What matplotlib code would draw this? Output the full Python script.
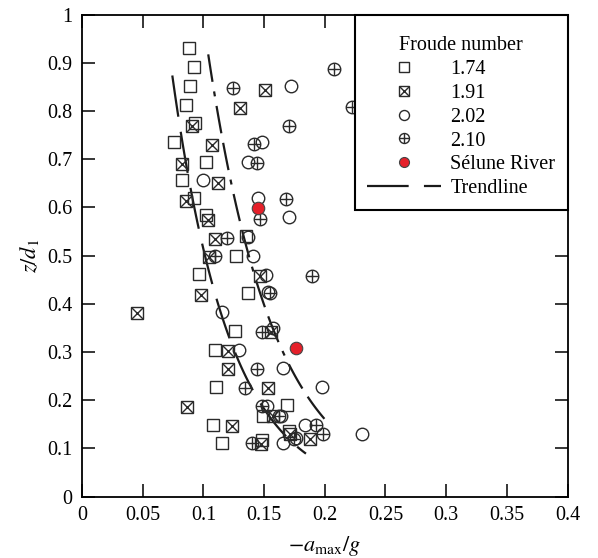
import numpy as np
import matplotlib.pyplot as plt
from matplotlib.lines import Line2D
from matplotlib.ticker import FuncFormatter

plt.rcParams['font.family'] = ['Liberation Serif', 'DejaVu Serif']
plt.rcParams['mathtext.fontset'] = 'stix'
plt.rcParams['lines.scale_dashes'] = False

# --- datos ---
# Froude 1.74 (cuadrado)
fr174_x = [0.0884, 0.0925, 0.0892, 0.0857, 0.0933, 0.0760, 0.1021, 0.0826, 0.0925, 0.1019,
           0.1348, 0.1266, 0.0964, 0.1370, 0.1260, 0.1098, 0.1101, 0.1082, 0.1156, 0.1480,
           0.1493, 0.1691, 0.1708]
fr174_y = [0.930, 0.891, 0.852, 0.813, 0.774, 0.735, 0.695, 0.657, 0.619, 0.585,
           0.540, 0.500, 0.461, 0.422, 0.344, 0.304, 0.228, 0.149, 0.111, 0.117,
           0.167, 0.189, 0.135]

# Froude 1.91 (cuadrado con aspa)
fr191_x = [0.1507, 0.1301, 0.0909, 0.1068, 0.0826, 0.1123, 0.0860, 0.1035, 0.1096, 0.1049,
           0.1466, 0.0978, 0.0450, 0.1557, 0.1205, 0.1205, 0.1535, 0.0867, 0.1576, 0.1233,
           0.1713, 0.1878, 0.1474]
fr191_y = [0.844, 0.805, 0.768, 0.729, 0.690, 0.651, 0.614, 0.574, 0.534, 0.497,
           0.458, 0.4185, 0.380, 0.342, 0.302, 0.264, 0.225, 0.185, 0.167, 0.146,
           0.130, 0.119, 0.109]

# Froude 2.02 (circulo)
fr202_x = [0.1722, 0.1480, 0.1370, 0.0994, 0.1452, 0.1708, 0.1370, 0.1411, 0.1513, 0.1530,
           0.1150, 0.1570, 0.1296, 0.1653, 0.1974, 0.1526, 0.1639, 0.1837, 0.2309, 0.1653,
           0.1760]
fr202_y = [0.851, 0.735, 0.695, 0.657, 0.619, 0.579, 0.538, 0.500, 0.460, 0.425,
           0.3825, 0.349, 0.304, 0.266, 0.227, 0.188, 0.167, 0.1485, 0.130, 0.1105,
           0.122]

# Froude 2.10 (circulo con cruz)
fr210_x = [0.2076, 0.1246, 0.2222, 0.1708, 0.1419, 0.1439, 0.1680, 0.1466, 0.1192, 0.1096,
           0.1892, 0.1549, 0.1480, 0.1439, 0.1343, 0.1480, 0.1623, 0.1928, 0.1988, 0.1746,
           0.1398]
fr210_y = [0.886, 0.847, 0.808, 0.769, 0.732, 0.692, 0.617, 0.576, 0.536, 0.498,
           0.458, 0.422, 0.342, 0.264, 0.225, 0.188, 0.167, 0.1485, 0.130, 0.120,
           0.1105]

# Rio Selune
selune_x = [0.1452, 0.1763]
selune_y = [0.5985, 0.308]

# lineas de tendencia exponenciales  z/d1 = a * exp(-b * x)
tend_a = [4.09, 6.07]
tend_b = [20.75, 18.17]
tend_xmin = [0.0744, 0.104]
tend_xmax = [0.1845, 0.201]

# --- figura ---
fig = plt.figure(figsize=(5.98, 5.58), dpi=100)
ax = fig.add_axes([0.1371, 0.1102, 0.812, 0.8638])

borde = '#2a2a2a'
ms = 8.5
mew = 1.0

# tendencias (trazos largos / trazo-trazo-punto)
dashes_tend = [(30, 11), (20, 7, 20, 7, 3.6, 7)]
offsets = [0, 27]
for a, b, x0, x1, d, off in zip(tend_a, tend_b, tend_xmin, tend_xmax, dashes_tend, offsets):
    xs = np.linspace(x0, x1, 100)
    ax.plot(xs, a * np.exp(-b * xs), color='#1a1a1a', lw=1.6, linestyle=(off, d))

h1, = ax.plot(fr174_x, fr174_y, ls='none', marker='s', ms=ms, mfc='none', mec=borde, mew=mew)
h2a, = ax.plot(fr191_x, fr191_y, ls='none', marker='s', ms=ms, mfc='none', mec=borde, mew=mew)
h2b, = ax.plot(fr191_x, fr191_y, ls='none', marker='x', ms=ms, mfc='none', mec=borde, mew=mew)
h3, = ax.plot(fr202_x, fr202_y, ls='none', marker='o', ms=ms + 0.5, mfc='none', mec=borde, mew=mew)
h4a, = ax.plot(fr210_x, fr210_y, ls='none', marker='o', ms=ms + 0.5, mfc='none', mec=borde, mew=mew)
h4b, = ax.plot(fr210_x, fr210_y, ls='none', marker='+', ms=ms + 0.5, mfc='none', mec=borde, mew=mew)
h5, = ax.plot(selune_x, selune_y, ls='none', marker='o', ms=ms + 0.5, mfc='#e5202a', mec='#444444', mew=0.8)

h_tend = Line2D([], [], color='#1a1a1a', lw=1.6, linestyle=(0, dashes_tend[0]))

ax.set_xlim(0, 0.4)
ax.set_ylim(0, 1)
ax.set_xticks(np.arange(0, 0.41, 0.05))
ax.set_yticks(np.arange(0, 1.01, 0.1))
fmt = FuncFormatter(lambda v, p: '%g' % round(v, 2))
ax.xaxis.set_major_formatter(fmt)
ax.yaxis.set_major_formatter(fmt)
ax.tick_params(direction='in', length=9.5, width=1.1, top=True, right=True,
               labelsize=14.5, pad=7)
for s in ax.spines.values():
    s.set_linewidth(1.3)

ax.set_xlabel(r'$-a_{\mathrm{max}}/g$', fontsize=16, labelpad=6)
ax.set_ylabel(r'$z/d_1$', fontsize=16, labelpad=4)

leg = ax.legend([h1, (h2a, h2b), h3, (h4a, h4b), h5, h_tend],
                ['1.74', '1.91', '2.02', '2.10', 'Sélune River', 'Trendline'],
                title='\nFroude number', loc='upper right', borderaxespad=0,
                fontsize=14.5, title_fontsize=14.5, markerscale=0.8,
                handlelength=3.7, handletextpad=0.45, labelspacing=0.24,
                borderpad=0.6, fancybox=False, framealpha=1, edgecolor='black')
leg.get_title().set_linespacing(0.3)
leg.get_frame().set_linewidth(1.5)

fig.savefig('out.png', dpi=100)
